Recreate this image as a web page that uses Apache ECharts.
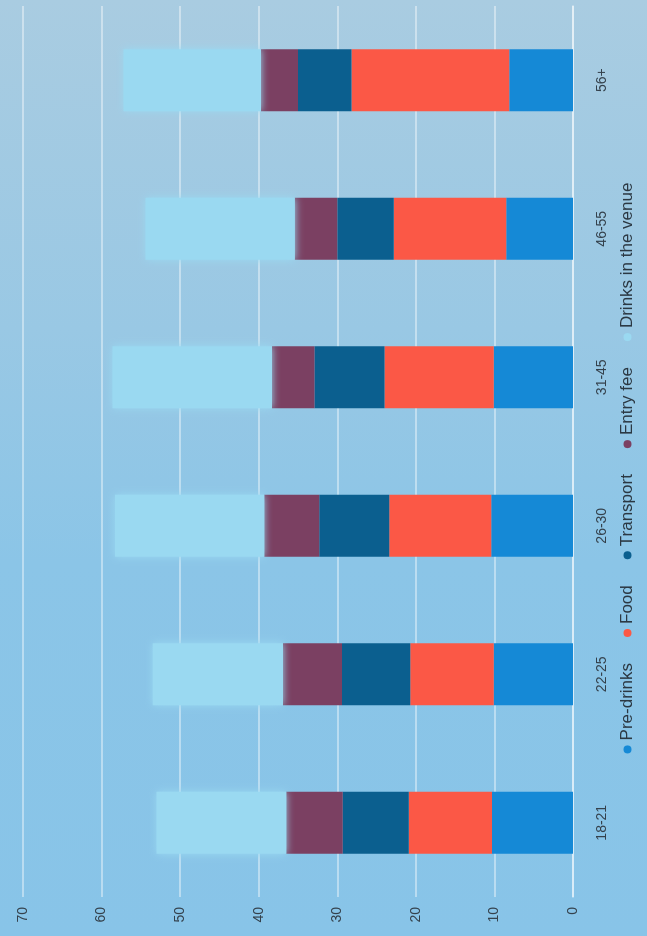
<!DOCTYPE html>
<html>
<head>
<meta charset="utf-8">
<script src="https://cdn.jsdelivr.net/npm/echarts@6/dist/echarts.min.js"></script>
<style>
  html, body {
    margin: 0;
    padding: 0;
    width: 647px;
    height: 936px;
    overflow: hidden;
    background: linear-gradient(to bottom, #a9cce1 0%, #99c8e4 35%, #8bc5e7 60%, #88c4e8 100%);
  }
  /* The chart is laid out landscape and turned a quarter turn to stand on the page */
  #chart {
    position: absolute;
    left: 0;
    top: 0;
    width: 936px;
    height: 647px;
    transform-origin: 0 0;
    transform: translateY(936px) rotate(-90deg);
  }
</style>
</head>
<body>
<div id="chart"></div>
<script>
// Average spend per night out, by age group
const ageGroups = ['18-21', '22-25', '26-30', '31-45', '46-55', '56+'];
const preDrinks = [10.3, 10.1, 10.4, 10.1, 8.5, 8.1];
const food      = [10.6, 10.6, 13.0, 13.9, 14.3, 20.1];
const transport = [8.4, 8.7, 8.9, 8.9, 7.2, 6.8];
const entryFee  = [7.2, 7.5, 7.0, 5.4, 5.4, 4.7];
const drinksVenue = [16.5, 16.6, 19.0, 20.3, 19.0, 17.5];
const valueTicks = [0, 10, 20, 30, 40, 50, 60, 70];

const seriesDefs = [
  { name: 'Pre-drinks', data: preDrinks, color: '#1589d6' },
  { name: 'Food', data: food, color: '#fb5846' },
  { name: 'Transport', data: transport, color: '#0b5f8f' },
  { name: 'Entry fee', data: entryFee, color: '#7b4062' },
  { name: 'Drinks in the venue', data: drinksVenue, color: '#9ad9f1', soft: true }
];

const chart = echarts.init(document.getElementById('chart'), null, { renderer: 'canvas' });

chart.setOption({
  animation: false,
  backgroundColor: 'transparent',
  textStyle: { fontFamily: '"Liberation Sans", Arial, sans-serif' },
  grid: { left: 39, right: 6, top: 23, bottom: 74 },
  legend: {
    bottom: 6,
    left: 'center',
    icon: 'circle',
    itemWidth: 8,
    itemHeight: 8,
    itemGap: 26,
    textStyle: { fontSize: 17, color: '#2b3843' },
    data: seriesDefs.map(s => s.name)
  },
  xAxis: {
    type: 'category',
    data: ageGroups,
    axisLine: { show: true, lineStyle: { color: 'rgba(255,255,255,0.6)', width: 1.5 } },
    axisTick: { show: false },
    axisLabel: { fontSize: 14, color: '#34414c', margin: 22 }
  },
  yAxis: {
    type: 'value',
    min: valueTicks[0],
    max: valueTicks[valueTicks.length - 1],
    interval: 10,
    axisLine: { show: false },
    axisTick: { show: false },
    axisLabel: { fontSize: 14, color: '#34414c', margin: 10 },
    splitLine: { lineStyle: { color: 'rgba(255,255,255,0.55)', width: 1.5 } }
  },
  series: seriesDefs.map(s => ({
    name: s.name,
    type: 'bar',
    stack: 'spend',
    barWidth: 62,
    data: s.data,
    itemStyle: s.soft
      ? { color: s.color, shadowBlur: 8, shadowColor: s.color }
      : { color: s.color }
  }))
});
</script>
</body>
</html>
